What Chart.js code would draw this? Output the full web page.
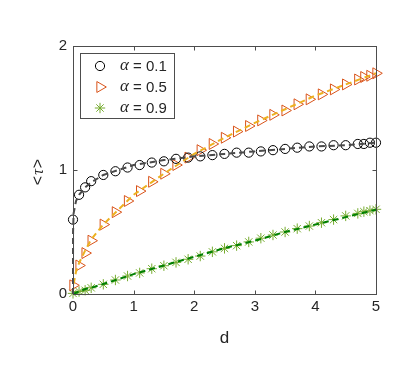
<!DOCTYPE html>
<html>
<head>
<meta charset="utf-8">
<script src="https://cdn.jsdelivr.net/npm/chart.js@4"></script>
<style>
  html, body { margin: 0; padding: 0; background: #fff; }
</style>
</head>
<body>
<canvas id="tau-chart" width="407" height="366"></canvas>
<script>
// simulation points
const distances = [0, 0.1, 0.2, 0.3, 0.5, 0.7, 0.9, 1.1, 1.3, 1.5, 1.7, 1.9, 2.1, 2.3, 2.5, 2.7, 2.9,
    3.1, 3.3, 3.5, 3.7, 3.9, 4.1, 4.3, 4.5, 4.7, 4.8, 4.9, 5.0];
const tauAlpha01 = [0.60, 0.80, 0.86, 0.91, 0.96, 0.99, 1.02, 1.04, 1.06, 1.07, 1.09, 1.10, 1.11, 1.12, 1.13,
    1.14, 1.14, 1.15, 1.16, 1.17, 1.18, 1.19, 1.19, 1.20, 1.20, 1.21, 1.21, 1.22, 1.22];
const tauAlpha05 = [0.07, 0.23, 0.33, 0.43, 0.56, 0.66, 0.75, 0.83, 0.905, 0.97, 1.04, 1.10, 1.16, 1.21, 1.26,
    1.31, 1.355, 1.40, 1.445, 1.48, 1.53, 1.57, 1.61, 1.65, 1.69, 1.73, 1.75, 1.76, 1.78];
const tauAlpha09 = [0.005, 0.02, 0.03, 0.05, 0.078, 0.113, 0.145, 0.17, 0.204, 0.228, 0.255, 0.28, 0.306, 0.34,
    0.368, 0.39, 0.42, 0.45, 0.476, 0.50, 0.527, 0.548, 0.575, 0.60, 0.63, 0.65, 0.664, 0.672, 0.683];

// dashed theory curves
const curveDistances = [0, 0.001, 0.01, 0.05, 0.1, 0.2, 0.3, 0.5, 1, 1.5, 2, 2.5, 3, 3.5, 4, 4.5, 5];
const curveAlpha01 = [0, 0.5, 0.65, 0.75, 0.8, 0.86, 0.9, 0.96, 1.04, 1.08, 1.11, 1.13, 1.15, 1.17, 1.19, 1.2, 1.22];
const curveAlpha05 = [0, 0.03, 0.08, 0.18, 0.25, 0.35, 0.44, 0.56, 0.8, 0.97, 1.13, 1.26, 1.38, 1.49, 1.6, 1.69, 1.78];
const curveAlpha09 = [0, 0, 0.002, 0.01, 0.02, 0.04, 0.05, 0.08, 0.16, 0.23, 0.3, 0.37, 0.43, 0.5, 0.56, 0.62, 0.68];

const alphaLabels = ['0.1', '0.5', '0.9'];
const xTicks = [0, 1, 2, 3, 4, 5];
const yTicks = [0, 1, 2];

const toPoints = (xs, ys) => xs.map((x, i) => ({ x: x, y: ys[i] }));

const axisColor = '#4d4d4d';
const textColor = '#262626';

// box, inward ticks, axis titles, legend (MATLAB look)
const matlabAxes = {
    id: 'matlabAxes',
    afterDatasetsDraw(chart) {
        const ctx = chart.ctx;
        const a = chart.chartArea;
        const xs = chart.scales.x, ys = chart.scales.y;
        const L = Math.round(a.left) + 0.5, R = Math.round(a.right) + 0.5;
        const T = Math.round(a.top) + 0.5, B = Math.round(a.bottom) + 0.5;
        ctx.save();
        ctx.strokeStyle = axisColor;
        ctx.lineWidth = 1;
        ctx.strokeRect(L, T, R - L, B - T);
        ctx.beginPath();
        xTicks.forEach(v => {
            const px = Math.round(xs.getPixelForValue(v)) + 0.5;
            ctx.moveTo(px, B); ctx.lineTo(px, B - 4);
            ctx.moveTo(px, T); ctx.lineTo(px, T + 4);
        });
        yTicks.forEach(v => {
            const py = Math.round(ys.getPixelForValue(v)) + 0.5;
            ctx.moveTo(L, py); ctx.lineTo(L + 4, py);
            ctx.moveTo(R, py); ctx.lineTo(R - 4, py);
        });
        ctx.stroke();

        // axis titles
        ctx.fillStyle = textColor;
        ctx.font = '17px "Liberation Sans", Arial, sans-serif';
        ctx.textAlign = 'center';
        ctx.textBaseline = 'middle';
        ctx.fillText('d', (a.left + a.right) / 2, 338);
        ctx.save();
        ctx.translate(39, (a.top + a.bottom) / 2 + 2);
        ctx.rotate(-Math.PI / 2);
        ctx.font = '16px "Liberation Sans", Arial, sans-serif';
        const lw = ctx.measureText('<').width;
        ctx.font = 'italic 16px "Liberation Serif", serif';
        const tw = ctx.measureText('τ').width;
        const total = lw * 2 + tw + 2;
        ctx.textAlign = 'left';
        ctx.font = '16px "Liberation Sans", Arial, sans-serif';
        ctx.fillText('<', -total / 2, 0);
        ctx.font = 'italic 16px "Liberation Serif", serif';
        ctx.fillText('τ', -total / 2 + lw + 1, 0);
        ctx.font = '16px "Liberation Sans", Arial, sans-serif';
        ctx.fillText('>', -total / 2 + lw + tw + 2, 0);
        ctx.restore();

        // legend
        ctx.fillStyle = '#fff';
        ctx.fillRect(80.5, 53.5, 94, 65);
        ctx.strokeStyle = axisColor;
        ctx.strokeRect(80.5, 53.5, 94, 65);
        const markers = chart.data.datasets.filter(d => d.isMarker);
        markers.forEach((d, i) => {
            const y = 66 + i * 21;
            ctx.strokeStyle = d.borderColor;
            ctx.fillStyle = 'rgba(0,0,0,0)';
            ctx.lineWidth = d.pointBorderWidth;
            Chart.helpers.drawPoint(ctx, {
                pointStyle: d.pointStyle,
                radius: d.pointRadius,
                rotation: d.pointRotation || 0,
                borderWidth: d.pointBorderWidth
            }, 100, y);
            ctx.fillStyle = textColor;
            ctx.textAlign = 'left';
            ctx.textBaseline = 'middle';
            ctx.font = 'italic 17px "Liberation Serif", serif';
            ctx.fillText('α', 120, y);
            const w = ctx.measureText('α').width;
            ctx.font = '15px "Liberation Sans", Arial, sans-serif';
            ctx.fillText(' = ' + alphaLabels[i], 120 + w, y + 1);
        });
        ctx.restore();
    }
};

const markerSet = (label, ys, color, style, radius, rotation) => ({
    label: label,
    isMarker: true,
    data: toPoints(distances, ys),
    showLine: false,
    pointStyle: style,
    pointRadius: radius,
    pointHoverRadius: radius,
    pointRotation: rotation,
    pointBorderWidth: 1,
    borderColor: color,
    pointBorderColor: color,
    pointBackgroundColor: 'rgba(0,0,0,0)',
    backgroundColor: 'rgba(0,0,0,0)',
    clip: false,
    order: 2
});

const curveSet = (ys, color) => ({
    data: toPoints(curveDistances, ys),
    showLine: true,
    borderColor: color,
    borderWidth: 2,
    borderDash: [6, 4],
    pointRadius: 0,
    tension: 0,
    clip: false,
    order: 1
});

new Chart(document.getElementById('tau-chart'), {
    type: 'scatter',
    data: {
        datasets: [
            markerSet('α = 0.1', tauAlpha01, '#000000', 'circle', 4.6, 0),
            markerSet('α = 0.5', tauAlpha05, '#D95319', 'triangle', 6.3, 90),
            markerSet('α = 0.9', tauAlpha09, '#77AC30', 'star', 5.2, 0),
            curveSet(curveAlpha01, '#4a4a4a'),
            curveSet(curveAlpha05, '#EDB120'),
            curveSet(curveAlpha09, '#008000')
        ]
    },
    options: {
        responsive: false,
        animation: false,
        devicePixelRatio: 1,
        layout: { padding: { left: 0, right: 31, top: 46, bottom: 0 } },
        plugins: { legend: { display: false }, tooltip: { enabled: false } },
        scales: {
            x: {
                type: 'linear',
                min: 0,
                max: 5,
                afterFit: s => { s.height = 72; },
                afterBuildTicks: s => { s.ticks = xTicks.map(v => ({ value: v })); },
                grid: { display: false, drawTicks: false },
                border: { display: false },
                ticks: {
                    padding: 4,
                    color: textColor,
                    font: { family: '"Liberation Sans", Arial, sans-serif', size: 15 },
                    maxRotation: 0
                }
            },
            y: {
                type: 'linear',
                min: 0,
                max: 2,
                afterFit: s => { s.width = 73; },
                afterBuildTicks: s => { s.ticks = yTicks.map(v => ({ value: v })); },
                grid: { display: false, drawTicks: false },
                border: { display: false },
                ticks: {
                    padding: 6,
                    color: textColor,
                    font: { family: '"Liberation Sans", Arial, sans-serif', size: 15 }
                }
            }
        }
    },
    plugins: [matlabAxes]
});
</script>
</body>
</html>
